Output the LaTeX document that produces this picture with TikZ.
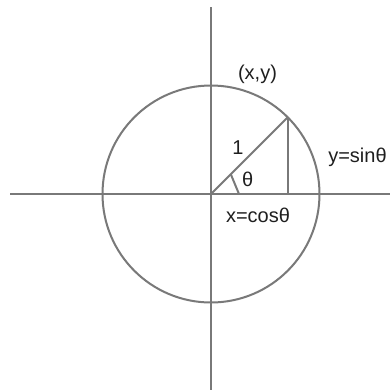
\documentclass[tikz,border=0pt]{standalone}
\usepackage{fontspec}
\setmainfont{Liberation Sans}
\begin{document}
\begin{tikzpicture}[x=1bp,y=-1bp,
  geo/.style={draw=gray!95!black, line width=2bp},
  lbl/.style={inner sep=0pt, anchor=base, text=black!88, font=\fontsize{20bp}{24bp}\selectfont}]
\useasboundingbox (0,0) rectangle (392,392);
\fill[white] (0,0) rectangle (392,392);
% key points
\coordinate (O) at (211,194);
\coordinate (top) at (211,7);
\coordinate (bot) at (211,390);
\coordinate (left) at (10,194);
\coordinate (right) at (390,194);
\coordinate (P) at (287.7,117.3);
\coordinate (F) at (287.7,194);
\coordinate (A1) at (230.8,174.2);
\coordinate (A2) at (239,194);
% axes and circle
\draw[geo] (top) -- (bot);
\draw[geo] (left) -- (right);
\draw[geo] (O) circle[radius=108.5];
% radius, sine segment, angle mark
\draw[geo] (O) -- (P);
\draw[geo] (P) -- (F);
\draw[geo] (A1) -- (A2);
% labels
\node[lbl] (xy) at (257.5,79) {(x,y)};
\node[lbl] (one) at (238,154.5) {1};
\node[lbl] (th) at (247.7,186.5) {θ};
\node[lbl] (sin) at (357.5,162) {y=sinθ};
\node[lbl] (cos) at (258,222.5) {x=cosθ};
\end{tikzpicture}
\end{document}
